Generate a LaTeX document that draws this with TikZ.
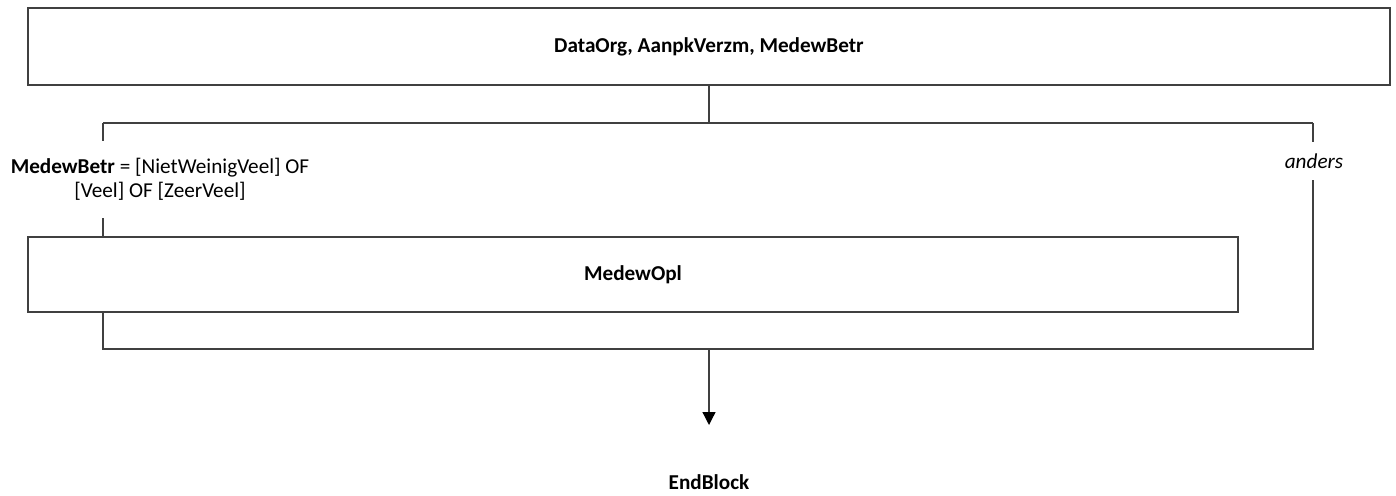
\documentclass[tikz,border=0pt]{standalone}
\usepackage{fontspec}
\setmainfont{Carlito}
\usetikzlibrary{arrows.meta}
\begin{document}
\begin{tikzpicture}
    [x=1pt,y=-1pt,font=\fontsize{21.2}{24}\selectfont,
     line/.style={draw=black!75,line width=1.3pt},
     block/.style={rectangle,line,inner sep=0pt},
     cond/.style={inner sep=0pt,align=center}]
    \useasboundingbox (0,0) rectangle (1396,495);
    \node (top) at (709,46.5) [block,minimum width=1362pt,minimum height=77pt] {\textbf{DataOrg, AanpkVerzm, MedewBetr}};
    \node (opl) at (633,274.5) [block,minimum width=1210pt,minimum height=75pt] {\textbf{MedewOpl}};
    \node (yes) at (160,179.5) [cond,minimum height=77pt] {\textbf{MedewBetr} = [NietWeinigVeel] OF\\\relax [Veel] OF [ZeerVeel]};
    \node (no) at (1314,161) [cond,minimum height=38pt] {\textit{anders}};
    \node (end) at (709,482) [cond] {\textbf{EndBlock}};
    \coordinate (lt) at (103,123);
    \coordinate (rt) at (1313,123);
    \coordinate (lb) at (103,349);
    \coordinate (rb) at (1313,349);
    \coordinate (tip) at (709,425);
    \draw [line] (top.south) to (top.south |- lt);
    \draw [line] (lt) to (rt);
    \draw [line] (lt) to (lt |- yes.north);
    \draw [line] (lt |- yes.south) to (lt |- opl.north);
    \draw [line] (lt |- opl.south) to (lb) to (rb) to (rt |- no.south);
    \draw [line] (rt) to (rt |- no.north);
    \draw [line,-{Triangle[width=13pt,length=13pt,color=black]}] (top.south |- lb) to (tip);
  \end{tikzpicture}
\end{document}
